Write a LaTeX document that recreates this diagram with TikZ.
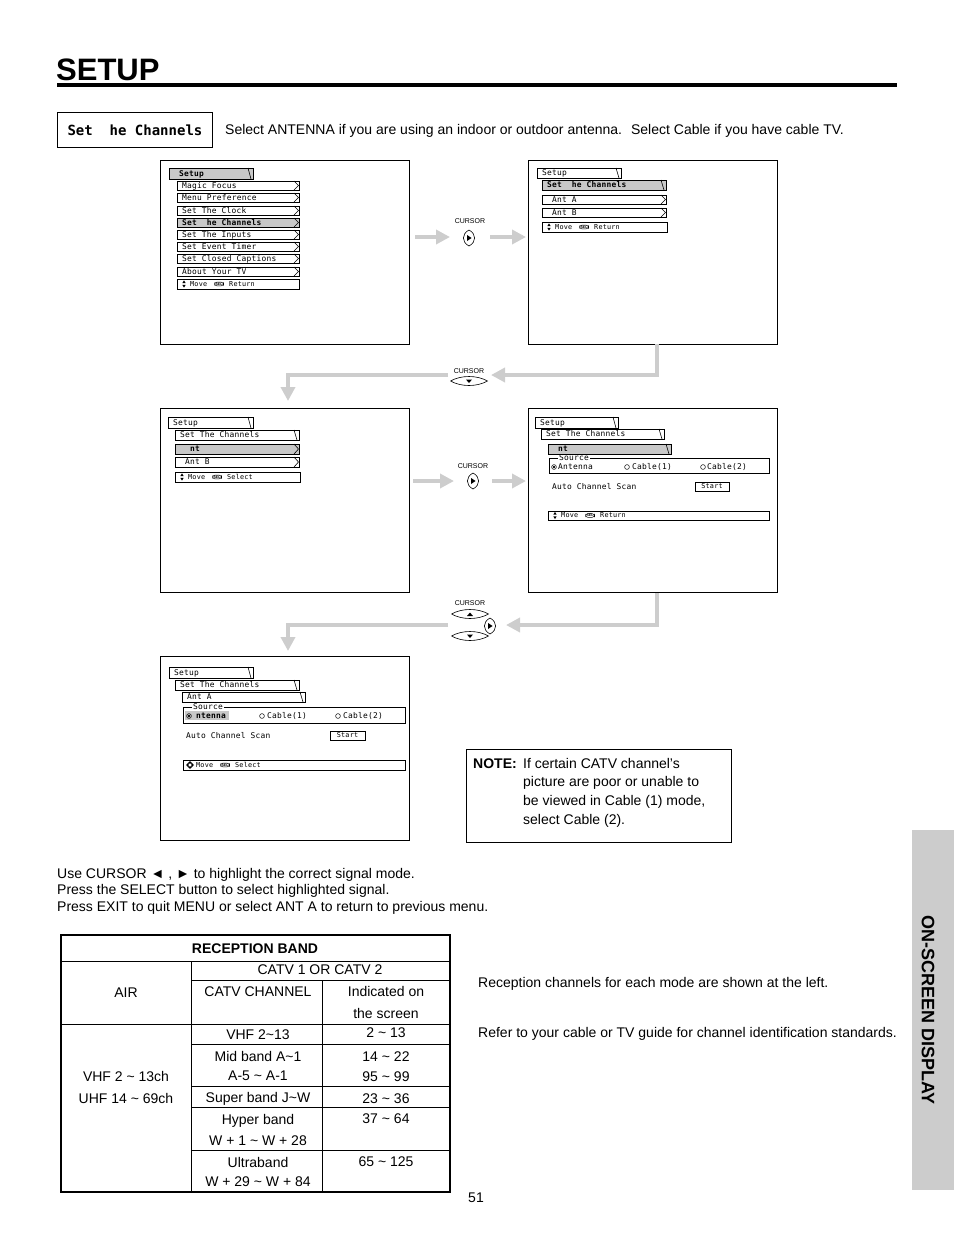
\documentclass[tikz,border=0pt]{standalone}
\usepackage{fontspec}
\setmainfont{Liberation Sans}
\newfontfamily\scrfont[LetterSpace=3]{DejaVu Sans Mono}
\newfontfamily\boxmono{DejaVu Sans Mono}
\usetikzlibrary{arrows.meta}
\definecolor{hl}{RGB}{200,200,200}
\definecolor{arr}{RGB}{205,205,205}
\definecolor{tabgray}{RGB}{204,204,204}
\newcommand\tld{\textasciitilde}
\tikzset{
  screen/.style={draw, line width=0.9pt, anchor=north west, inner sep=0pt, minimum width=249pt, minimum height=184pt},
  scrtxt/.style={font=\scrfont\fontsize{7.9}{8}\selectfont, inner sep=0pt, anchor=base west},
  smalltxt/.style={font=\scrfont\fontsize{6.8}{7}\selectfont, inner sep=0pt, anchor=base west},
  selov/.style={draw, rounded corners=2.5pt, inner xsep=1pt, inner ysep=0.6pt, line width=0.5pt, font=\bfseries\fontsize{3.6}{4}\selectfont},
  body/.style={font=\fontsize{14}{16}\selectfont, inner sep=0pt, anchor=base west},
  tbl/.style={font=\fontsize{14}{16}\selectfont, inner sep=0pt, anchor=base},
  garrow/.style={draw=arr, line width=4.5pt, -{Triangle[width=14pt,length=14pt]}},
  curlab/.style={font=\fontsize{7}{8}\selectfont, inner sep=0pt},
}
\newcommand\mbarbase[7]{%
  \path[draw=black, line width=0.8pt, #6] (#2,#3) rectangle (#4,#5);
  \node[scrtxt] (#1) at ({#2+5},{(#3+#5)/2+2.8}) {#7};}
\newcommand\mbarC[7]{\mbarbase{#1}{#2}{#3}{#4}{#5}{#6}{#7}%
  \draw[line width=0.6pt] ({#4-5},#3) -- ({#4-0.5},{(#3+#5)/2}) -- ({#4-5},#5);}
\newcommand\mbarS[7]{\mbarbase{#1}{#2}{#3}{#4}{#5}{#6}{#7}%
  \draw[line width=0.6pt] ({#4-5},#3) -- ({#4-2},#5);}
\newcommand\mvbase[6]{%
  \draw[line width=0.8pt] (#2,#3) rectangle (#4,#5);
  \node[smalltxt] (#1m) at ({#2+13},{(#3+#5)/2+2.4}) {Move};
  \node[selov] (#1s) at ({#2+42},{(#3+#5)/2}) {SEL};
  \node[smalltxt] (#1w) at ({#2+52},{(#3+#5)/2+2.4}) {#6};}
\newcommand\mvbar[6]{\mvbase{#1}{#2}{#3}{#4}{#5}{#6}%
  \fill ({#2+5.3},{(#3+#5)/2-0.8}) -- ({#2+8.7},{(#3+#5)/2-0.8}) -- ({#2+7},{(#3+#5)/2-3.6}) -- cycle;
  \fill ({#2+5.3},{(#3+#5)/2+0.8}) -- ({#2+8.7},{(#3+#5)/2+0.8}) -- ({#2+7},{(#3+#5)/2+3.6}) -- cycle;}
\newcommand\mvbarF[6]{\mvbase{#1}{#2}{#3}{#4}{#5}{#6}%
  \fill ({#2+7},{(#3+#5)/2-4}) -- ({#2+9.5},{(#3+#5)/2-1.3}) -- ({#2+4.5},{(#3+#5)/2-1.3}) -- cycle;
  \fill ({#2+7},{(#3+#5)/2+4}) -- ({#2+9.5},{(#3+#5)/2+1.3}) -- ({#2+4.5},{(#3+#5)/2+1.3}) -- cycle;
  \fill ({#2+3},{(#3+#5)/2}) -- ({#2+5.7},{(#3+#5)/2-2.5}) -- ({#2+5.7},{(#3+#5)/2+2.5}) -- cycle;
  \fill ({#2+11},{(#3+#5)/2}) -- ({#2+8.3},{(#3+#5)/2-2.5}) -- ({#2+8.3},{(#3+#5)/2+2.5}) -- cycle;}
\newcommand\radio[2]{\draw[line width=0.5pt] (#1,#2) circle[radius=2.4pt];}
\newcommand\radioon[2]{\draw[line width=0.5pt] (#1,#2) circle[radius=2.4pt]; \fill (#1,#2) circle[radius=1.3pt];}
\newcommand\rcur[2]{%
  \draw[line width=0.6pt] (#1,{#2-8}) .. controls ({#1-7.5},{#2-4}) and ({#1-7.5},{#2+4}) .. (#1,{#2+8}) .. controls ({#1+7.5},{#2+4}) and ({#1+7.5},{#2-4}) .. (#1,{#2-8});
  \fill ({#1-2},{#2-3}) -- ({#1+2.6},#2) -- ({#1-2},{#2+3}) -- cycle;}
\newcommand\hlens[2]{%
  \draw[line width=0.6pt] ({#1-18.5},#2) .. controls ({#1-8},{#2-6}) and ({#1+8},{#2-6}) .. ({#1+18.5},#2) .. controls ({#1+8},{#2+6}) and ({#1-8},{#2+6}) .. ({#1-18.5},#2);}
\begin{document}
\begin{tikzpicture}[x=1pt,y=-1pt]
\useasboundingbox (0,0) rectangle (954,1235);

% header
\node[font=\bfseries\fontsize{31}{33}\selectfont, inner sep=0pt, anchor=base west] (title) at (56,80) {SETUP};
\draw[line width=4pt] (57,85) -- (897,85);

\node[draw, line width=0.9pt, anchor=north west, minimum width=155pt, minimum height=35pt, inner sep=0pt,
  font=\boxmono\bfseries\fontsize{14}{16}\selectfont] (setbox) at (57,112) {Set~~he Channels};
\node[body] (intro) at (225,134) {Select ANTENNA if you are using an indoor or outdoor antenna.~ Select Cable if you have cable TV.};

% screens
\node[screen] (s1) at (160,160) {};
\node[screen] (s2) at (528,160) {};
\node[screen] (s3) at (160,408) {};
\node[screen] (s4) at (528,408) {};
\node[screen] (s5) at (160,656) {};

% screen 1
\mbarS{t1}{169}{168}{253}{179}{fill=hl}{\bfseries ~Setup}
\mbarC{m1}{177}{181}{299}{190}{}{Magic Focus}
\mbarC{m2}{177}{193}{299}{202}{}{Menu Preference}
\mbarC{m3}{177}{206}{299}{215}{}{Set The Clock}
\mbarC{m4}{177}{218}{299}{227}{fill=hl}{\bfseries Set~~he Channels}
\mbarC{m5}{177}{230}{299}{239}{}{Set The Inputs}
\mbarC{m6}{177}{242}{299}{251}{}{Set Event Timer}
\mbarC{m7}{177}{254}{299}{263}{}{Set Closed Captions}
\mbarC{m8}{177}{267}{299}{276}{}{About Your TV}
\mvbar{m9}{177}{279}{299}{289}{Return}

% screen 2
\mbarS{t2}{537}{168}{621}{178}{}{Setup}
\mbarS{a2}{542}{180}{666}{190}{fill=hl}{\bfseries Set~~he Channels}
\mbarC{b2}{542}{195}{666}{204}{}{~Ant A}
\mbarC{c2}{542}{208}{666}{217}{}{~Ant B}
\mvbar{d2}{542}{222}{667}{232}{Return}

% screen 3
\mbarS{t3}{168}{417}{253}{428}{}{Setup}
\mbarS{a3}{175}{430}{299}{440}{}{Set The Channels}
\mbarC{b3}{175}{444}{299}{454}{fill=hl}{\bfseries ~~nt}
\mbarC{c3}{175}{457}{299}{467}{}{~Ant B}
\mvbar{d3}{175}{472}{300}{482}{Select}

% screen 4
\mbarS{t4}{535}{417}{618}{428}{}{Setup}
\mbarS{a4}{541}{429}{664}{439}{}{Set The Channels}
\mbarS{b4}{548}{444}{671}{454}{fill=hl}{\bfseries ~nt}
\draw[line width=0.8pt] (549,458) rectangle (769,473);
\node[scrtxt, fill=white, inner xsep=1pt] (src4) at (558,460.5) {Source};
\radioon{554}{467}
\node[scrtxt] (ant4) at (558,469) {Antenna};
\radio{627}{467}
\node[scrtxt] (cb41) at (632,469) {Cable(1)};
\radio{703}{467}
\node[scrtxt] (cb42) at (707,469) {Cable(2)};
\node[scrtxt] (acs4) at (552,489) {Auto Channel Scan};
\node[draw, line width=0.8pt, minimum width=34pt, minimum height=9pt, inner sep=0pt, font=\scrfont\fontsize{6.8}{7}\selectfont] (st4) at (712,486.5) {Start};
\mvbar{d4}{548}{511}{769}{520}{Return}

% screen 5
\mbarS{t5}{169}{667}{253}{678}{}{Setup}
\mbarS{a5}{175}{680}{299}{690}{}{Set The Channels}
\mbarS{b5}{182}{692}{305}{702}{}{Ant A}
\draw[line width=0.8pt] (183,707) rectangle (405,723);
\node[scrtxt, fill=white, inner xsep=1pt] (src5) at (192,709.5) {Source};
\fill[hl] (185,711) rectangle (229,720);
\radioon{189}{716}
\node[scrtxt] (ant5) at (196,718.5) {\bfseries ntenna};
\radio{262}{716}
\node[scrtxt] (cb51) at (267,718.5) {Cable(1)};
\radio{338}{716}
\node[scrtxt] (cb52) at (343,718.5) {Cable(2)};
\node[scrtxt] (acs5) at (186,738) {Auto Channel Scan};
\node[draw, line width=0.8pt, minimum width=35pt, minimum height=9pt, inner sep=0pt, font=\scrfont\fontsize{6.8}{7}\selectfont] (st5) at (347.5,735.5) {Start};
\mvbarF{d5}{183}{760}{405}{770}{Select}

% cursor row 1
\node[curlab] (cl1) at (470,221) {CURSOR};
\rcur{469}{238}
\coordinate (a1s) at (415,237); \coordinate (a1e) at (450,237);
\coordinate (a2s) at (490,237); \coordinate (a2e) at (526,237);
\draw[garrow] (a1s) -- (a1e);
\draw[garrow] (a2s) -- (a2e);

% L connector 1
\node[curlab] (cl2) at (469,371) {CURSOR};
\hlens{469}{381}
\fill (466,379.5) -- (472,379.5) -- (469,383) -- cycle;
\coordinate (l1a) at (657,344); \coordinate (l1b) at (657,375); \coordinate (l1c) at (491,375);
\draw[garrow] (l1a) -- (l1b) -- (l1c);
\coordinate (l1d) at (448,375); \coordinate (l1e) at (288,375); \coordinate (l1f) at (288,401);
\draw[garrow] (l1d) -- (l1e) -- (l1f);

% cursor row 2
\node[curlab] (cl3) at (473,466) {CURSOR};
\rcur{473}{481}
\coordinate (a3s) at (413,481); \coordinate (a3e) at (454,481);
\coordinate (a4s) at (492,481); \coordinate (a4e) at (526,481);
\draw[garrow] (a3s) -- (a3e);
\draw[garrow] (a4s) -- (a4e);

% L connector 2
\node[curlab] (cl4) at (470,603) {CURSOR};
\hlens{470}{614}
\fill (467,616) -- (473,616) -- (470,612.5) -- cycle;
\hlens{470}{636}
\fill (467,634.5) -- (473,634.5) -- (470,638) -- cycle;
\rcur{490}{626}
\coordinate (l2a) at (657,593); \coordinate (l2b) at (657,625); \coordinate (l2c) at (506,625);
\draw[garrow] (l2a) -- (l2b) -- (l2c);
\coordinate (l2d) at (448,625); \coordinate (l2e) at (288,625); \coordinate (l2f) at (288,651);
\draw[garrow] (l2d) -- (l2e) -- (l2f);

% note
\node[draw, line width=1pt, anchor=north west, minimum width=265pt, minimum height=93pt, inner sep=0pt] (note) at (466,749) {};
\node[body, font=\bfseries\fontsize{14}{16}\selectfont] (notel) at (473,768) {NOTE:};
\node[body] (n1) at (523,768) {If certain CATV channel’s};
\node[body] (n2) at (523,786) {picture are poor or unable to};
\node[body] (n3) at (523,805) {be viewed in Cable (1) mode,};
\node[body] (n4) at (523,824) {select Cable (2).};

% instructions
\node[body] (i1) at (57,878) {Use CURSOR ◄ , ► to highlight the correct signal mode.};
\node[body] (i2) at (57,894) {Press the SELECT button to select highlighted signal.};
\node[body] (i3) at (57,911) {Press EXIT to quit MENU or select ANT A to return to previous menu.};

% table
\draw[line width=1.5pt] (61,935) rectangle (450,1192);
\draw[line width=1pt] (61,961) -- (450,961);
\draw[line width=1pt] (61,1024) -- (450,1024);
\draw[line width=1pt] (191,980) -- (450,980);
\draw[line width=1pt] (191,1044) -- (450,1044);
\draw[line width=1pt] (191,1086) -- (450,1086);
\draw[line width=1pt] (191,1107) -- (450,1107);
\draw[line width=1pt] (191,1150) -- (450,1150);
\draw[line width=1pt] (191,961) -- (191,1192);
\draw[line width=1pt] (322,980) -- (322,1192);
\node[tbl, font=\bfseries\fontsize{14}{16}\selectfont] (th) at (255,953) {RECEPTION BAND};
\node[tbl] (tc) at (320,974) {CATV 1 OR CATV 2};
\node[tbl] (tair) at (126,997) {AIR};
\node[tbl] (tcc) at (258,996) {CATV CHANNEL};
\node[tbl] (tind1) at (386,996) {Indicated on};
\node[tbl] (tind2) at (386,1018) {the screen};
\node[tbl] (r1a) at (258,1039) {VHF 2\tld13};
\node[tbl] (r1b) at (386,1037) {2 \tld\ 13};
\node[tbl] (r2a) at (258,1061) {Mid band A\tld1};
\node[tbl] (r2b) at (258,1080) {A-5 \tld\ A-1};
\node[tbl] (r2c) at (386,1061) {14 \tld\ 22};
\node[tbl] (r2d) at (386,1081) {95 \tld\ 99};
\node[tbl] (r3a) at (258,1102) {Super band J\tld W};
\node[tbl] (r3b) at (386,1103) {23 \tld\ 36};
\node[tbl] (r4a) at (258,1124) {Hyper band};
\node[tbl] (r4b) at (258,1145) {W + 1 \tld\ W + 28};
\node[tbl] (r4c) at (386,1123) {37 \tld\ 64};
\node[tbl] (r5a) at (258,1167) {Ultraband};
\node[tbl] (r5b) at (258,1186) {W + 29 \tld\ W + 84};
\node[tbl] (r5c) at (386,1166) {65 \tld\ 125};
\node[tbl] (air1) at (126,1081) {VHF 2 \tld\ 13ch};
\node[tbl] (air2) at (126,1103) {UHF 14 \tld\ 69ch};

\node[body] (rt1) at (478,987) {Reception channels for each mode are shown at the left.};
\node[body] (rt2) at (478,1037) {Refer to your cable or TV guide for channel identification standards.};

\node[tbl] (pg) at (476,1202) {51};

% side tab
\fill[tabgray] (912,830) rectangle (954,1190);
\node[font=\bfseries\fontsize{18}{20}\selectfont, rotate=-90, inner sep=0pt] (side) at (928,1010) {ON-SCREEN DISPLAY};
\end{tikzpicture}
\end{document}
